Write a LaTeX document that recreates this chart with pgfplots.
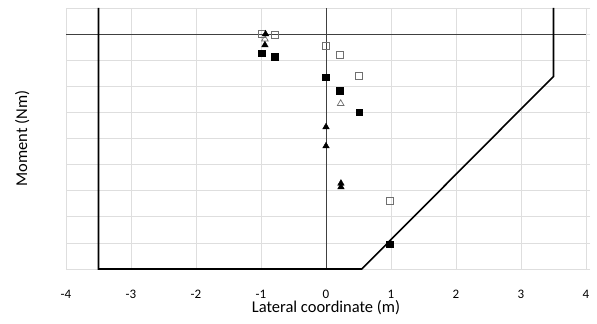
\documentclass[border=0pt]{standalone}
\usepackage{pgfplots}
\pgfplotsset{compat=1.18}
\usepackage{fontspec}
\setmainfont{Carlito}
\definecolor{gridgray}{HTML}{DEDEDE}
\definecolor{axisgray}{HTML}{404040}
\definecolor{opengray}{HTML}{6F6F6F}

\begin{document}
\begin{tikzpicture}
\begin{axis}[
  at={(0,0)}, anchor=south west,
  scale only axis,
  width=520bp, height=261bp,
  xmin=-4, xmax=4, ymin=-9, ymax=1,
  xtick={-4,-3,...,4},
  ytick={-9,-8,...,1},
  yticklabels={},
  grid=major,
  major grid style={gridgray, line width=0.75bp},
  axis line style={draw=none},
  xtick style={draw=none},
  ytick pos=right,
  tick align=outside,
  ytick style={gridgray, line width=0.75bp},
  major tick length=4bp,
  /pgf/number format/assume math mode=true,
  xticklabel style={anchor=center, yshift=-21bp, font=\fontsize{13bp}{15bp}\selectfont},
  xlabel={Lateral coordinate (m)},
  ylabel={Moment (Nm)},
  every axis x label/.style={at={(axis description cs:0.5,-0.148)}, anchor=center,
    font=\fontsize{16.5bp}{19bp}\selectfont},
  every axis y label/.style={at={(axis description cs:-0.084,0.5)}, anchor=center, rotate=90,
    font=\fontsize{16.5bp}{19bp}\selectfont},
  clip=false,
]
% zero lines
\addplot[axisgray, line width=0.75bp, no marks] coordinates {(-4,0) (4,0)};
\addplot[axisgray, line width=0.75bp, no marks] coordinates {(0,-9) (0,1)};

% envelope
\addplot[black, line width=1.6bp, no marks] coordinates {
  (-3.5,1) (-3.5,-9) (0.55,-9) (3.5,-1.62) (3.5,1)};

% open squares
\addplot[only marks, mark=square, mark size=3.4bp, mark options={draw=opengray, fill=white, line width=0.7bp}]
  coordinates {(-0.985,0) (-0.785,-0.04) (0.0,-0.46) (0.215,-0.80) (0.51,-1.61) (0.985,-6.4)};

% filled squares
\addplot[only marks, mark=square*, mark size=3.4bp, mark options={draw=black, fill=black}]
  coordinates {(-0.985,-0.73) (-0.785,-0.88) (0.0,-1.65) (0.215,-2.18) (0.51,-2.99) (0.985,-8.05)};

% open triangles
\addplot[only marks, mark=triangle, mark size=3.8bp, mark options={draw=opengray, fill=white, line width=0.7bp}]
  coordinates {(-0.94,-0.19) (0.226,-2.66)};

% filled triangles
\addplot[only marks, mark=triangle*, mark size=3.8bp, mark options={draw=black, fill=black}]
  coordinates {(-0.93,0) (-0.94,-0.42) (0.0,-3.56) (0.0,-4.29) (0.23,-5.72) (0.23,-5.86)};
\end{axis}
\pgfresetboundingbox
\useasboundingbox (-66bp,-55bp) rectangle (531bp,269bp);
\end{tikzpicture}
\end{document}
